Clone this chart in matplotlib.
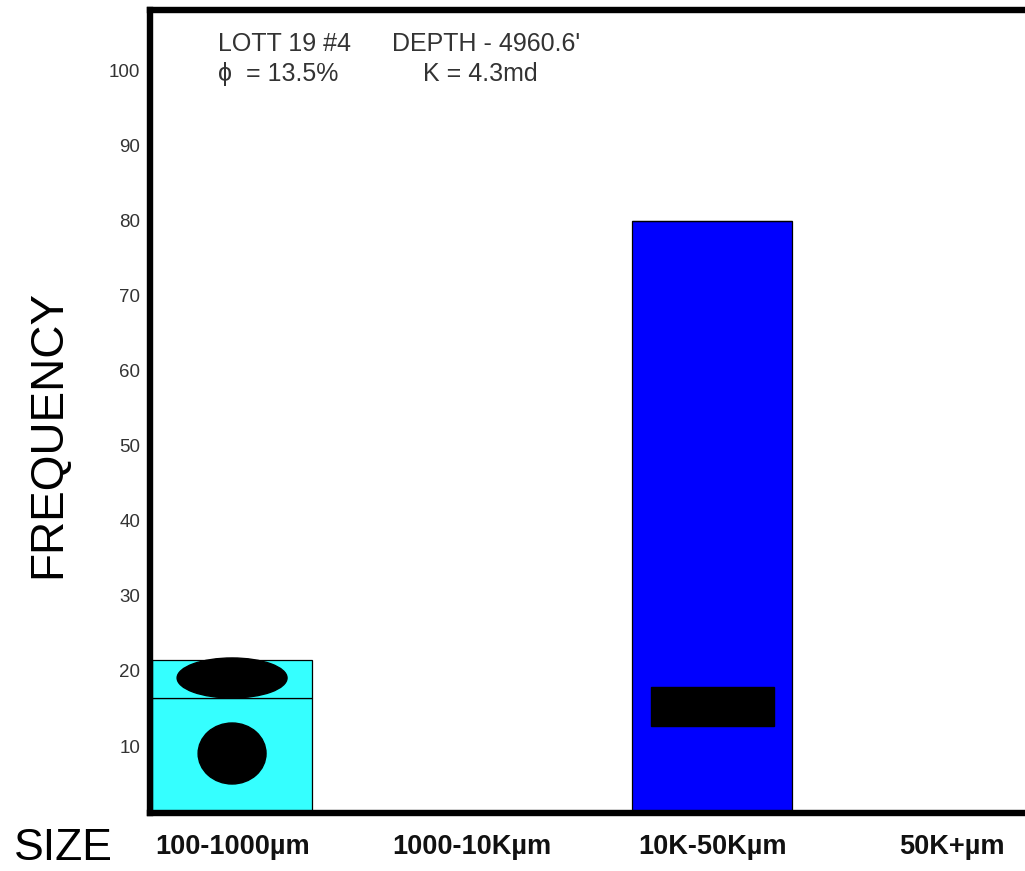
import matplotlib
matplotlib.use("Agg")
import matplotlib.pyplot as plt
from matplotlib.patches import Ellipse, Rectangle

plt.rcParams['font.family'] = ['Liberation Sans', 'DejaVu Sans']

categories = ["100-1000\u00b5m", "1000-10K\u00b5m", "10K-50K\u00b5m", "50K+\u00b5m"]
lower_values = [16.4, 0, 80, 0]      # main bar segment
upper_values = [5.1, 0, 0, 0]        # stacked upper segment (first bar)
bar_colors = ["#35ffff", "#35ffff", "#0000ff", "#0000ff"]
yticks = [10, 20, 30, 40, 50, 60, 70, 80, 90, 100]

fig = plt.figure(figsize=(10.25, 8.71), dpi=100)
ax = fig.add_axes([150/1025, (871-813)/871, (1025-150)/1025 + 0.02, (813-10)/871])

x = list(range(len(categories)))
w = 0.665
ax.bar(x, lower_values, width=w, color=bar_colors, edgecolor="black", linewidth=0.9, zorder=2)
ax.bar(x, upper_values, width=w, bottom=lower_values, color=bar_colors,
       edgecolor="black", linewidth=0.9, zorder=2)

# pore-shape symbols
ax.add_patch(Ellipse((0, 19.07), 0.458, 5.33, color="black", zorder=3))
ax.add_patch(Ellipse((0, 9.0), 0.283, 8.13, color="black", zorder=3))
ax.add_patch(Rectangle((2 - 0.254, 12.67), 0.512, 5.2, color="black", zorder=3))

ax.set_xlim(-0.342, 3.304 + 0.02 * 1025 / 240.25)
ax.set_ylim(1.07, 108.1)

for s in ["left", "top", "bottom"]:
    ax.spines[s].set_linewidth(4.6)
    ax.spines[s].set_color("black")
ax.spines["right"].set_visible(False)

ax.set_yticks(yticks)
ax.set_yticklabels([str(v) for v in yticks], fontsize=13.5, color="#333333")
ax.tick_params(axis="y", length=0, pad=7)
ax.set_xticks(x)
ax.set_xticklabels(categories, fontsize=19.5, fontweight="bold", color="#111111")
ax.tick_params(axis="x", length=0, pad=15)

fig.text(48/1025, 1 - 434/871, "FREQUENCY", rotation=90, fontsize=33,
         ha="center", va="center", color="black")
fig.text(14/1025, 1 - 848/871, "SIZE", fontsize=32, ha="left", va="center", color="black")

hdr = dict(fontsize=18, color="#333333", va="center", ha="left")
fig.text(218/1025, 1 - 44/871, "LOTT 19 #4", **hdr)
fig.text(392/1025, 1 - 44/871, "DEPTH - 4960.6'", **hdr)
fig.text(218/1025, 1 - 74/871, "\u03d5  = 13.5%", **hdr)
fig.text(423/1025, 1 - 74/871, "K = 4.3md", **hdr)

fig.savefig("out.png", dpi=100)
